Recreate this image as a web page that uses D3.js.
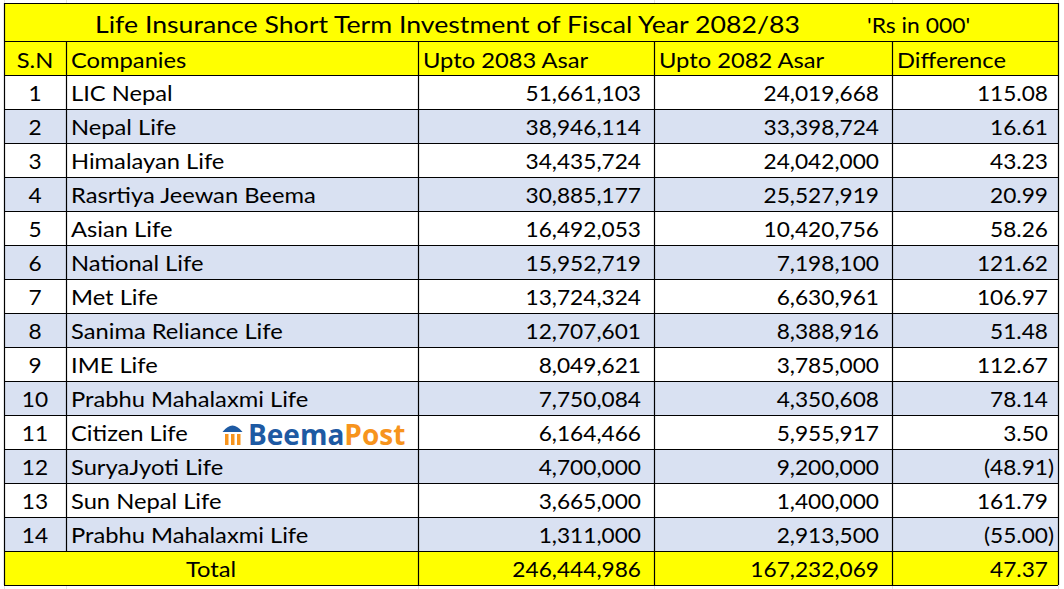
<!DOCTYPE html>
<html>
<head>
<meta charset="utf-8">
<script src="https://cdn.jsdelivr.net/npm/d3@7"></script>
<style>
  html, body { margin: 0; padding: 0; background: #fff; }
  svg text { font-family: Lato, "Open Sans", sans-serif; fill: #000; }
</style>
</head>
<body>
<div id="chart"></div>
<script>
var title = "Life Insurance Short Term Investment of Fiscal Year 2082/83";
var unitLabel = "'Rs in 000'";
var headers = ["S.N", "Companies", "Upto 2083 Asar", "Upto 2082 Asar", "Difference"];

var serials = [1, 2, 3, 4, 5, 6, 7, 8, 9, 10, 11, 12, 13, 14];
var companies = ["LIC Nepal", "Nepal Life", "Himalayan Life", "Rasrtiya Jeewan Beema",
    "Asian Life", "National Life", "Met Life", "Sanima Reliance Life", "IME Life",
    "Prabhu Mahalaxmi Life", "Citizen Life", "SuryaJyoti Life", "Sun Nepal Life",
    "Prabhu Mahalaxmi Life"];
var upto2083 = [51661103, 38946114, 34435724, 30885177, 16492053, 15952719, 13724324,
    12707601, 8049621, 7750084, 6164466, 4700000, 3665000, 1311000];
var upto2082 = [24019668, 33398724, 24042000, 25527919, 10420756, 7198100, 6630961,
    8388916, 3785000, 4350608, 5955917, 9200000, 1400000, 2913500];
var difference = [115.08, 16.61, 43.23, 20.99, 58.26, 121.62, 106.97, 51.48, 112.67,
    78.14, 3.50, -48.91, 161.79, -55.00];
var totals = {label: "Total", upto2083: 246444986, upto2082: 167232069, difference: 47.37};

var width = 1064, height = 589;
var colEdges = [4, 66, 418, 654, 892, 1058];
var top0 = 3, titleH = 38, rowH = 34;
var yellow = "#FFFF00", stripe = "#D9E1F2";
var fontSize = 21;
var wordStretch = 1.13, numStretch = 1.08;

var svg = d3.select("#chart").append("svg")
    .attr("width", width)
    .attr("height", height);

var fmtInt = d3.format(",");
var fmtDiff = function (v) {
    var s = d3.format(",.2f")(Math.abs(v));
    return v < 0 ? "(" + s + ")" : s;
};

// the source table is a screenshot stretched sideways, so text gets a small x-scale
function addText(parent, x, y, str, anchor, size, stretch) {
    return parent.append("text")
        .attr("transform", "translate(" + x + "," + y + ") scale(" + stretch + ",1)")
        .attr("text-anchor", anchor)
        .style("font-size", size + "px")
        .text(str);
}

// faint excel gridlines outside the table
var grid = svg.append("g").attr("stroke", "#e3e3e3").attr("stroke-width", 1);
colEdges.forEach(function (x) {
    grid.append("line").attr("x1", x + 0.5).attr("x2", x + 0.5).attr("y1", 0).attr("y2", height);
});

var headerTop = top0 + titleH;
var bodyTop = headerTop + rowH;
var y = d3.scaleBand()
    .domain(d3.range(companies.length))
    .range([bodyTop, bodyTop + rowH * companies.length]);
var totalTop = y.range()[1];
var base = 26;

// title row
svg.append("rect")
    .attr("x", colEdges[0]).attr("y", top0)
    .attr("width", colEdges[5] - colEdges[0]).attr("height", titleH)
    .attr("fill", yellow);
addText(svg, 95, top0 + 30, title, "start", 23, 1.16);
addText(svg, 867, top0 + 30, unitLabel, "start", 21, 1.09);

// header row
svg.append("rect")
    .attr("x", colEdges[0]).attr("y", headerTop)
    .attr("width", colEdges[5] - colEdges[0]).attr("height", rowH)
    .attr("fill", yellow);
headers.forEach(function (h, i) {
    addText(svg,
        i === 0 ? (colEdges[0] + colEdges[1]) / 2 : colEdges[i] + 5,
        headerTop + base + 1, h,
        i === 0 ? "middle" : "start", fontSize, wordStretch);
});

// body rows
var rows = svg.selectAll("g.row")
    .data(companies)
    .enter().append("g")
    .attr("class", "row")
    .attr("transform", function (d, i) { return "translate(0," + y(i) + ")"; });

rows.append("rect")
    .attr("x", colEdges[0]).attr("y", 0)
    .attr("width", colEdges[5] - colEdges[0]).attr("height", y.bandwidth())
    .attr("fill", function (d, i) { return i % 2 ? stripe : "#fff"; });

rows.each(function (d, i) {
    var g = d3.select(this);
    addText(g, (colEdges[0] + colEdges[1]) / 2, base, serials[i], "middle", fontSize, numStretch);
    addText(g, colEdges[1] + 5, base, d, "start", fontSize, wordStretch);
    addText(g, colEdges[3] - 13, base, fmtInt(upto2083[i]), "end", fontSize, numStretch);
    addText(g, colEdges[4] - 13, base, fmtInt(upto2082[i]), "end", fontSize, numStretch);
    addText(g, difference[i] < 0 ? colEdges[5] - 4 : colEdges[5] - 10, base,
        fmtDiff(difference[i]), "end", fontSize, numStretch);
});

// total row
svg.append("rect")
    .attr("x", colEdges[0]).attr("y", totalTop)
    .attr("width", colEdges[5] - colEdges[0]).attr("height", rowH)
    .attr("fill", yellow);
var ty = totalTop + base;
addText(svg, (colEdges[0] + colEdges[2]) / 2, ty, totals.label, "middle", fontSize, wordStretch);
addText(svg, colEdges[3] - 13, ty, fmtInt(totals.upto2083), "end", fontSize, numStretch);
addText(svg, colEdges[4] - 13, ty, fmtInt(totals.upto2082), "end", fontSize, numStretch);
addText(svg, colEdges[5] - 10, ty, fmtDiff(totals.difference), "end", fontSize, numStretch);

// borders
var lines = svg.append("g").attr("stroke", "#000").attr("stroke-width", 1.2);
var hLines = [top0, headerTop].concat(y.domain().map(function (i) { return y(i); }), [totalTop, totalTop + rowH]);
hLines.forEach(function (yy) {
    lines.append("line")
        .attr("x1", colEdges[0]).attr("x2", colEdges[5])
        .attr("y1", yy + 0.5).attr("y2", yy + 0.5);
});
[colEdges[0], colEdges[5]].forEach(function (x) {
    lines.append("line")
        .attr("x1", x + 0.5).attr("x2", x + 0.5)
        .attr("y1", top0).attr("y2", totalTop + rowH);
});
colEdges.slice(1, 5).forEach(function (x) {
    lines.append("line")
        .attr("x1", x + 0.5).attr("x2", x + 0.5)
        .attr("y1", headerTop).attr("y2", totalTop);
});
// S.N and Companies are merged in the total row
colEdges.slice(2, 5).forEach(function (x) {
    lines.append("line")
        .attr("x1", x + 0.5).attr("x2", x + 0.5)
        .attr("y1", totalTop).attr("y2", totalTop + rowH);
});

// watermark logo
var logo = svg.append("g").attr("transform", "translate(222," + (y(10) + 7) + ")");
logo.append("path")
    .attr("d", "M0.5,10 Q10.5,-3 20.5,10 Z")
    .attr("fill", "#1e5aa3");
[3, 9, 15].forEach(function (bx) {
    logo.append("rect")
        .attr("x", bx).attr("y", 12).attr("width", 3.5).attr("height", 11)
        .attr("fill", "#f7941d");
});
logo.append("text")
    .attr("x", 26).attr("y", 23)
    .style("font-family", "'Open Sans', sans-serif")
    .style("font-weight", "bold")
    .style("font-size", "28px")
    .style("letter-spacing", "0px")
    .style("fill", "#1e5aa3")
    .text("Beema")
    .append("tspan")
    .style("fill", "#f7941d")
    .text("Post");
</script>
</body>
</html>
